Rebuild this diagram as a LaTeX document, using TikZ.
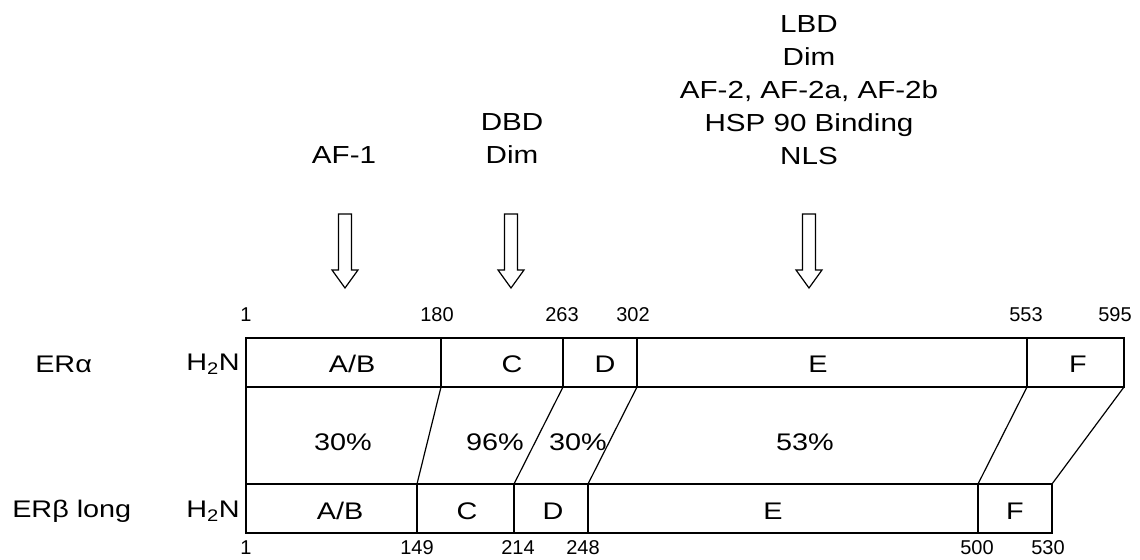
\documentclass[tikz,border=0pt]{standalone}
\usepackage{fontspec}
\setmainfont{Liberation Sans}
\newfontfamily\labfont{Liberation Sans}[FakeStretch=1.2]
\begin{document}
\begin{tikzpicture}[x=0.75pt,y=-0.75pt,
  edge/.style={draw=black,line width=0.9pt},
  boxlab/.style={font=\labfont\fontsize{18pt}{21pt}\selectfont,inner sep=0pt},
  toplab/.style={font=\labfont\fontsize{18.5pt}{24.75pt}\selectfont,align=center,inner sep=0pt},
  numlab/.style={font=\fontsize{15pt}{18pt}\selectfont,inner sep=0pt},
  blockarrow/.style={draw=black,line width=0.9pt,fill=white,line join=miter}]
\useasboundingbox (0,0) rectangle (1140,560);
% top box boundary coordinates
\foreach \n/\x in {0/246,1/441,2/563,3/637,4/1027,5/1124}{
  \coordinate (a\n t) at (\x,338);
  \coordinate (a\n b) at (\x,387);
}
\foreach \n/\x in {0/246,1/417,2/514,3/588,4/978,5/1052}{
  \coordinate (b\n t) at (\x,484);
  \coordinate (b\n b) at (\x,533);
}
% boxes
\draw[edge] (a0t) rectangle (a5b);
\draw[edge] (b0t) rectangle (b5b);
\foreach \n in {1,2,3,4}{
  \draw[edge] (a\n t) -- (a\n b);
  \draw[edge] (b\n t) -- (b\n b);
}
\foreach \n in {0,1,2,3,4,5}{
  \draw[edge] (a\n b) -- (b\n t);
}
% row labels
\node[boxlab,anchor=west] (era) at (35,364) {ERα};
\node[boxlab,anchor=west] (erb) at (12,511) {ERβ long};
\node[boxlab,anchor=east] (nha) at (240,364) {H\textsubscript{2}N};
\node[boxlab,anchor=east] (nhb) at (240,511) {H\textsubscript{2}N};
% domain labels top
\node[boxlab] (tab) at (352,364) {A/B};
\node[boxlab] (tc) at (512,364) {C};
\node[boxlab] (td) at (605,364) {D};
\node[boxlab] (te) at (818,364) {E};
\node[boxlab] (tf) at (1078,364) {F};
% domain labels bottom
\node[boxlab] (bab) at (340,511) {A/B};
\node[boxlab] (bc) at (467,511) {C};
\node[boxlab] (bd) at (553,511) {D};
\node[boxlab] (be) at (773,511) {E};
\node[boxlab] (bf) at (1015,511) {F};
% percentages
\node[boxlab] (p1) at (343,442) {30\%};
\node[boxlab] (p2) at (495,442) {96\%};
\node[boxlab] (p3) at (578,442) {30\%};
\node[boxlab] (p4) at (805,442) {53\%};
% residue numbers
\node[numlab] (n1) at (246,315) {1};
\node[numlab] (n180) at (437,315) {180};
\node[numlab] (n263) at (562,315) {263};
\node[numlab] (n302) at (633,315) {302};
\node[numlab] (n553) at (1026,315) {553};
\node[numlab] (n595) at (1115,315) {595};
\node[numlab] (m1) at (246,548) {1};
\node[numlab] (m149) at (417,548) {149};
\node[numlab] (m214) at (518,548) {214};
\node[numlab] (m248) at (583,548) {248};
\node[numlab] (m500) at (977,548) {500};
\node[numlab] (m530) at (1048,548) {530};
% top annotations
\node[toplab] (af1) at (344,155) {AF-1};
\node[toplab] (dbd) at (512,139) {DBD\\Dim};
\node[toplab] (lbd) at (809,90) {LBD\\Dim\\AF-2, AF-2a, AF-2b\\HSP 90 Binding\\NLS};
% block arrows
\foreach \c in {345,511,809}{
  \draw[blockarrow] (\c-6.5,214) -- (\c+6.5,214) -- (\c+6.5,270) -- (\c+13,270)
    -- (\c,288) -- (\c-13,270) -- (\c-6.5,270) -- cycle;
}
\end{tikzpicture}
\end{document}
